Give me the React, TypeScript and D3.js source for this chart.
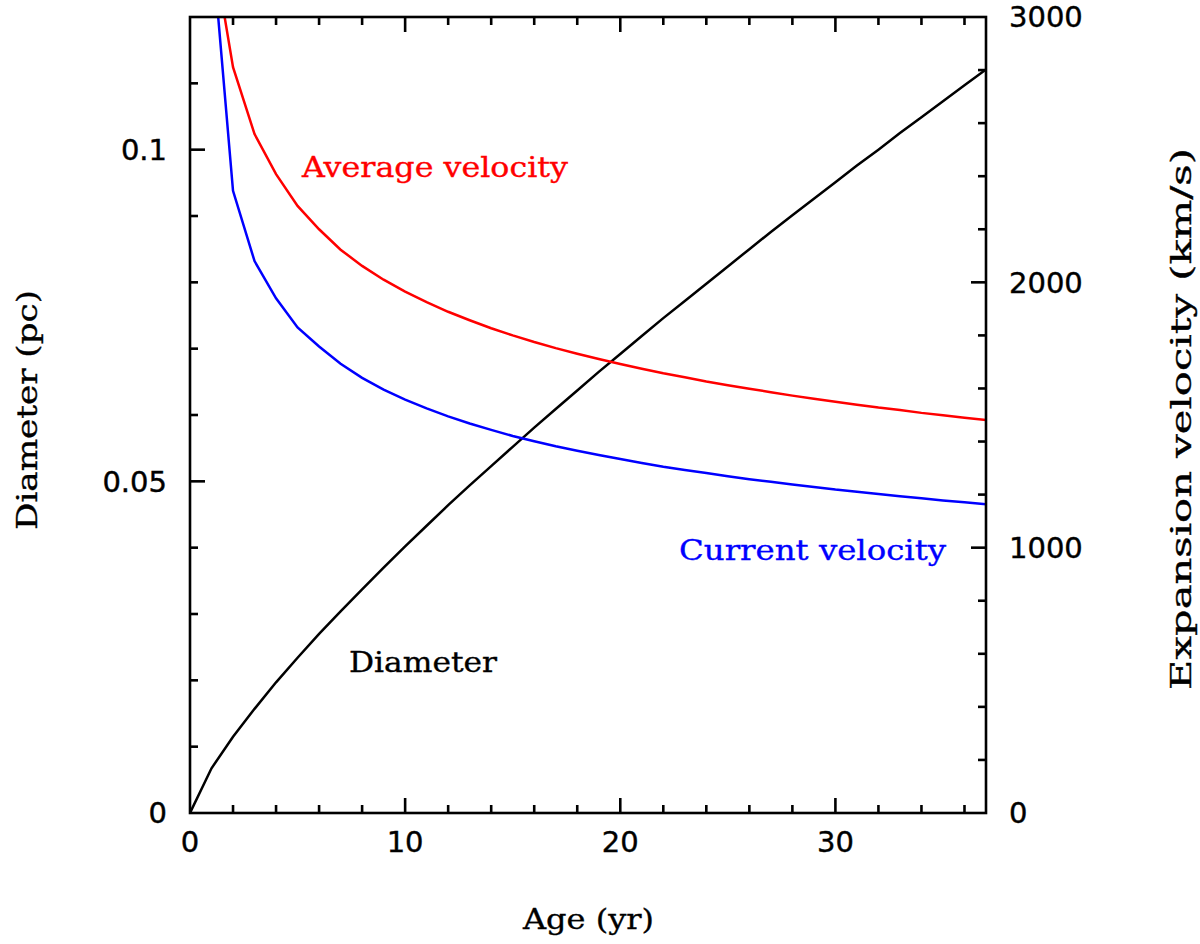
import { useEffect, useRef } from "react"
import * as d3 from "d3"

// ages in years, one sample per year
const AGES = d3.range(0, 38)

// diameter in pc
const DIAMETER = [
  0, 0.00674, 0.0115, 0.0157, 0.0197, 0.0234, 0.027, 0.0304, 0.0337, 0.037,
  0.0402, 0.0433, 0.0464, 0.0494, 0.0523, 0.0552, 0.0581, 0.0609, 0.0637, 0.0665,
  0.0692, 0.0719, 0.0746, 0.0772, 0.0798, 0.0824, 0.085, 0.0876, 0.0901, 0.0926,
  0.0951, 0.0976, 0.1, 0.1025, 0.1049, 0.1073, 0.1097, 0.1121,
]

// average expansion velocity (km/s), from age 1
const AVG_VELOCITY = [
  3295, 2811, 2559, 2408, 2288, 2200, 2123, 2062, 2010, 1965,
  1925, 1889, 1857, 1827, 1800, 1775, 1752, 1731, 1711, 1692,
  1674, 1657, 1642, 1626, 1612, 1599, 1586, 1573, 1561, 1550,
  1539, 1528, 1519, 1508, 1499, 1490, 1481,
]

// current expansion velocity (km/s), from age 1
const CUR_VELOCITY = [
  3295, 2345, 2080, 1940, 1830, 1758, 1693, 1640, 1596, 1558,
  1525, 1495, 1468, 1444, 1421, 1401, 1382, 1365, 1349, 1334,
  1319, 1305, 1293, 1281, 1269, 1258, 1248, 1238, 1229, 1219,
  1211, 1202, 1194, 1186, 1178, 1171, 1164,
]

const X_TICKS = [0, 10, 20, 30]
const D_TICKS = [0, 0.05, 0.1]
const D_TICK_LABELS = ["0", "0.05", "0.1"]
const V_TICKS = [0, 1000, 2000, 3000]

const SERIF = "'DejaVu Serif', serif"
const SANS = "'DejaVu Sans', sans-serif"

export default function App() {
  const ref = useRef<SVGSVGElement>(null)

  useEffect(() => {
    document.body.style.margin = "0"
    if (!ref.current) return
    const el = ref.current
    d3.select(el).selectAll("*").remove()

    const W = 1200
    const H = 944
    const L = 190
    const R = 986
    const T = 17
    const B = 813

    const svg = d3.select(el).attr("width", W).attr("height", H).attr("viewBox", `0 0 ${W} ${H}`)

    const x = d3.scaleLinear().domain([0, 37]).range([L, R])
    const yD = d3.scaleLinear().domain([0, 0.12]).range([B, T])
    const yV = d3.scaleLinear().domain([0, 3000]).range([B, T])

    svg
      .append("clipPath")
      .attr("id", "plot-clip")
      .append("rect")
      .attr("x", L)
      .attr("y", T)
      .attr("width", R - L)
      .attr("height", B - T)

    const plot = svg.append("g").attr("clip-path", "url(#plot-clip)")

    const dLine = d3
      .line<number>()
      .x((_, i) => x(AGES[i]))
      .y((d) => yD(d))
    const vLine = d3
      .line<number>()
      .x((_, i) => x(AGES[i + 1]))
      .y((d) => yV(d))

    const LW = 2.5
    plot.append("path").attr("d", dLine(DIAMETER)).attr("fill", "none").attr("stroke", "#000").attr("stroke-width", LW)
    plot.append("path").attr("d", vLine(AVG_VELOCITY)).attr("fill", "none").attr("stroke", "#f00").attr("stroke-width", LW)
    plot.append("path").attr("d", vLine(CUR_VELOCITY)).attr("fill", "none").attr("stroke", "#00f").attr("stroke-width", LW)

    // frame + ticks, pgplot style: ticks point inward on all four sides
    const axes = svg.append("g").attr("stroke", "#000").attr("stroke-width", 2.6).attr("fill", "none")
    axes.append("rect").attr("x", L).attr("y", T).attr("width", R - L).attr("height", B - T)

    const MAJ = 15
    const MIN = 8

    d3.range(2, 37.001, 2).forEach((t) => {
      const len = t % 10 === 0 ? MAJ : MIN
      axes.append("line").attr("x1", x(t)).attr("x2", x(t)).attr("y1", B).attr("y2", B - len)
      axes.append("line").attr("x1", x(t)).attr("x2", x(t)).attr("y1", T).attr("y2", T + len)
    })
    d3.range(1, 12).forEach((k) => {
      const d = k * 0.01
      const len = k % 5 === 0 ? MAJ : MIN
      axes.append("line").attr("x1", L).attr("x2", L + len).attr("y1", yD(d)).attr("y2", yD(d))
    })
    d3.range(1, 15).forEach((k) => {
      const v = k * 200
      const len = k % 5 === 0 ? MAJ : MIN
      axes.append("line").attr("x1", R).attr("x2", R - len).attr("y1", yV(v)).attr("y2", yV(v))
    })

    const labels = svg
      .append("g")
      .attr("font-family", SANS)
      .attr("font-size", 29)
      .attr("fill", "#000")
      .attr("stroke", "#000")
      .attr("stroke-width", 0.4)

    X_TICKS.forEach((t) => {
      labels.append("text").attr("x", x(t)).attr("y", B + 39).attr("text-anchor", "middle").text(String(t))
    })
    D_TICKS.forEach((d, i) => {
      labels
        .append("text")
        .attr("x", L - 23)
        .attr("y", yD(d))
        .attr("dy", "0.36em")
        .attr("text-anchor", "end")
        .text(D_TICK_LABELS[i])
    })
    V_TICKS.forEach((v) => {
      labels.append("text").attr("x", R + 23).attr("y", yV(v)).attr("dy", "0.36em").text(String(v))
    })

    // serif text, stretched to the widths measured on the reference
    const serifText = (txt: string, x0: number, y0: number, len: number, color: string, rotate = false) => {
      const t = svg
        .append("text")
        .attr("font-family", SERIF)
        .attr("font-size", 28)
        .attr("fill", color)
        .attr("stroke", color)
        .attr("stroke-width", 0.35)
        .attr("textLength", len)
        .attr("lengthAdjust", "spacingAndGlyphs")
        .text(txt)
      if (rotate) t.attr("transform", `translate(${x0},${y0}) rotate(-90)`)
      else t.attr("x", x0).attr("y", y0)
      return t
    }

    serifText("Age (yr)", 523, 929, 131, "#000")
    serifText("Diameter (pc)", 37, 530, 240, "#000", true)
    serifText("Expansion velocity (km/s)", 1191, 690, 542, "#000", true)

    // curve labels
    serifText("Average velocity", 302, 177, 266, "#f00")
    serifText("Current velocity", 679, 560, 267, "#00f")
    serifText("Diameter", 349, 672, 148, "#000")
  }, [])

  return <svg ref={ref} style={{ display: "block" }} />
}
